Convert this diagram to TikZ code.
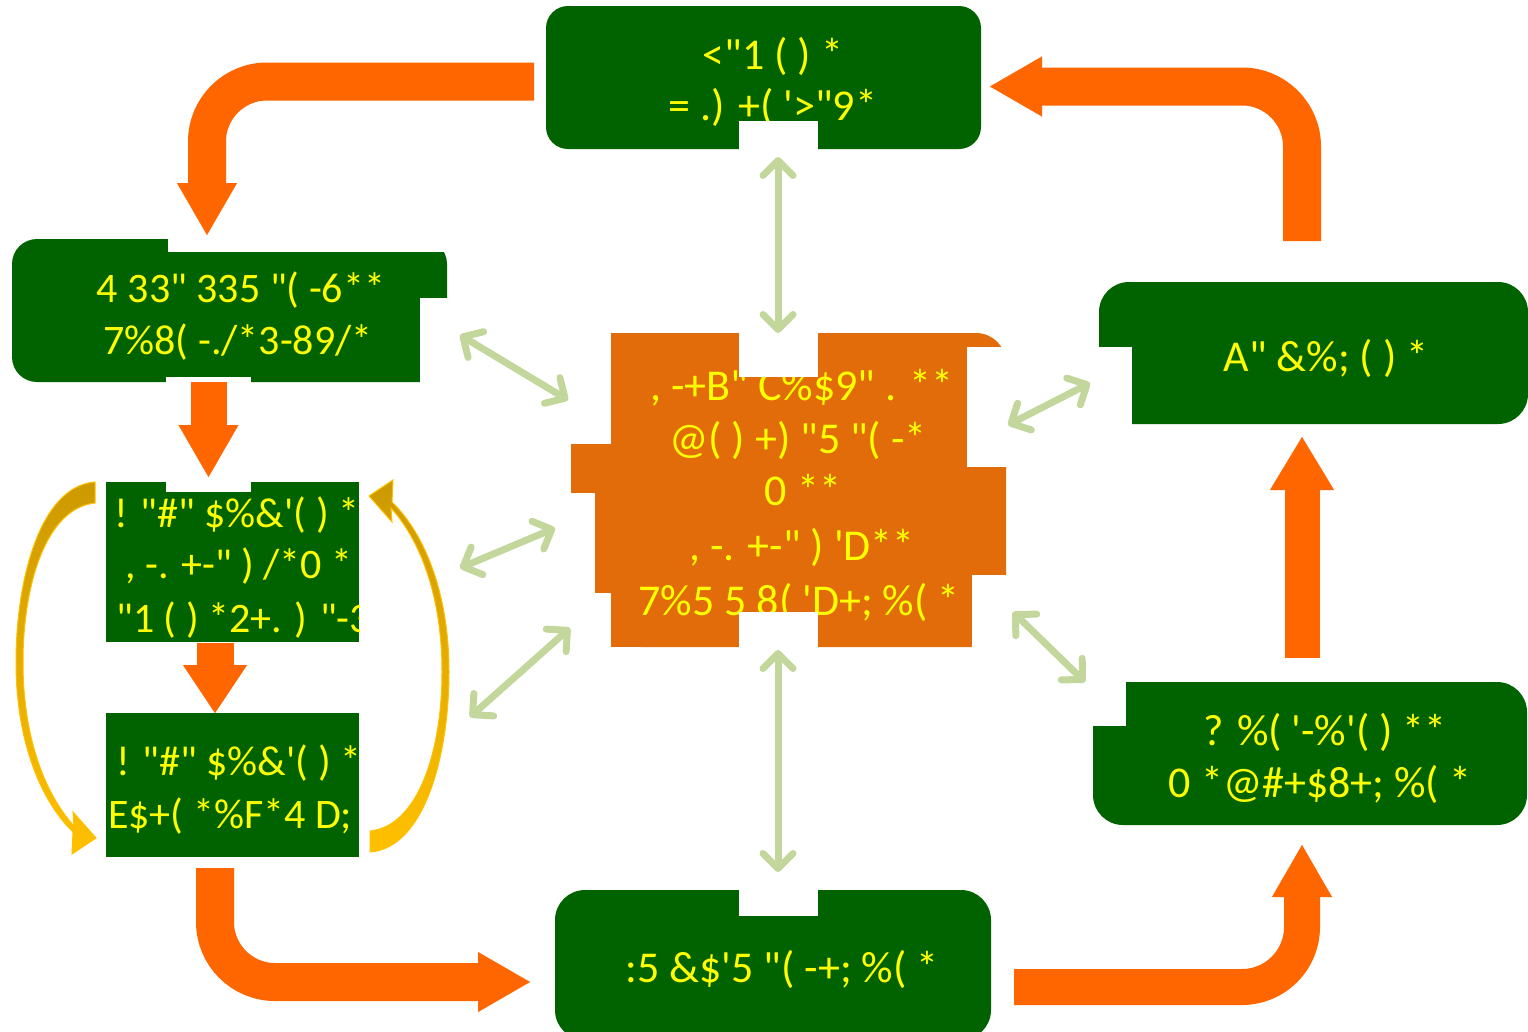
\documentclass[tikz,border=0pt]{standalone}
\usepackage{fontspec}
\newfontfamily\lblfont{Carlito}
\usetikzlibrary{arrows.meta,calc}
\definecolor{dgreen}{RGB}{0,99,0}
\definecolor{obox}{RGB}{227,108,10}
\definecolor{oarr}{RGB}{255,102,0}
\definecolor{tyel}{RGB}{255,255,0}
\definecolor{lgreen}{RGB}{195,214,155}
\definecolor{gold1}{RGB}{255,192,0}
\definecolor{gold2}{RGB}{204,153,0}
\begin{document}
\begin{tikzpicture}[x=1pt,y=-1pt,
  gbox/.style={fill=dgreen, inner sep=0pt, outer sep=0pt, rounded corners=22pt},
  obx/.style={fill=obox, inner sep=0pt, outer sep=0pt, rounded corners=30pt},
  txt/.style={text=tyel, font=\lblfont\fontsize{44}{50}\selectfont, inner sep=0pt, anchor=base},
  stxt/.style={txt, font=\lblfont\fontsize{42}{50}\selectfont},
  cut/.style={fill=white},
  oarrow/.style={draw=oarr, line width=38pt, rounded corners=60pt, -{Triangle[length=52pt,width=60pt,line width=0.1pt]}},
  dbl/.style={draw=lgreen, line width=7pt, line cap=round, >={Straight Barb[length=15pt,width=30pt,line cap=round,line join=round]}, <->},
  yarrow/.style={top color=gold2, bottom color=gold1, draw=gold1, line width=1pt}]
\useasboundingbox (0,0) rectangle (1528,1031);

% boxes
\node[gbox, minimum width=435, minimum height=143] (top) at (763.5,77.5) {};
\node[gbox, rounded corners=25pt, minimum width=435, minimum height=143] (lt) at (229.5,310.5) {};
\node[obx, minimum width=395, minimum height=314] (ctr) at (808.5,490) {};
\fill[obox] (571,444) rectangle (611,493);
\fill[obox] (595,493) rectangle (612,593);
\fill[obox] (611,333) rectangle (660,380);
\fill[obox] (611,600) rectangle (650,647);
\node[gbox, rounded corners=30pt, minimum width=429, minimum height=142] (rt) at (1313.5,353) {};
\node[gbox, rounded corners=30pt, minimum width=434, minimum height=143] (rb) at (1310,753.5) {};
\node[gbox, rounded corners=30pt, minimum width=436, minimum height=150] (bt) at (773,965) {};
\node[gbox, rounded corners=0pt, minimum width=253, minimum height=160] (lm) at (232.5,562) {};
\node[gbox, rounded corners=0pt, minimum width=253, minimum height=144] (lb) at (232.5,785) {};

% texts
\node[txt] (tA1) at (773,69) {<"1 ( ) *};
\node[txt] (tA2) at (773,120) {= .) +( '>"9*};
\node[stxt] (tB1) at (241,302) {4 33" 335 "( -6**};
\node[stxt] (tB2) at (238,354) {7\%8( -./*3-89/*};
\node[txt] (tC1) at (802,400) {, -+B" C\%\$9" . **};
\node[txt] (tC2) at (798,453) {@( ) +) "5 "( -*};
\node[txt] (tC3) at (803,505) {0 **};
\node[txt] (tC4) at (802,560) {, -. +-" ) 'D**};
\node[txt] (tC5) at (799,615) {7\%5 5 8( 'D+; \%( *};
\node[txt] (tD1) at (1326,371) {A" \&\%; ( ) *};
\node[txt] (tE1) at (1325,745) {? \%( '-\%'( ) **};
\node[txt] (tE2) at (1320,797) {0 *@\#+\$8+; \%( *};
\node[txt] (tF1) at (782,982) {:5 \&\$'5 "( -+; \%( *};
\begin{scope}
  \clip (106,482) rectangle (359,642);
  \node[stxt, anchor=base west] (tG1) at (114,527) {! "\#" \$\%\&'( ) *+*};
  \node[stxt] (tG2) at (239,578) {, -. +-" ) /*0 *};
  \node[stxt, anchor=base west] (tG3) at (116,632) {"1 ( ) *2+. ) "-3};
\end{scope}
\begin{scope}
  \clip (106,713) rectangle (359,857);
  \node[stxt, anchor=base west] (tH1) at (116,775) {! "\#" \$\%\&'( ) *+*};
  \node[stxt, anchor=base west] (tH2) at (108,828) {E\$+( *\%F*4 D; \%(};
\end{scope}

% white notches
\fill[cut] (739,121) rectangle (818,150);
\fill[cut] (168,237) rectangle (449,252);
\fill[cut] (420,298) rectangle (449,384);
\fill[cut] (166,377) rectangle (251,384);
\fill[cut] (739,332) rectangle (818,377);
\fill[cut] (739,612) rectangle (818,648);
\fill[cut] (967,347) rectangle (1008,467);
\fill[cut] (972,575) rectangle (1008,648);
\fill[cut] (1097,347) rectangle (1132,426);
\fill[cut] (1091,680) rectangle (1126,726);
\fill[cut] (739,888) rectangle (818,916);
\fill[cut] (166,480) rectangle (251,492);

% orange flow arrows
\draw[oarrow] ($(top.west)+(-12,4)$) -| ($(lt.north)+(-22.5,-4)$);
\draw[oarrow] ($(rt.north)+(-11.5,-41)$) |- ($(top.east)+(9,9)$);
\draw[oarrow, line width=36pt] ($(lt.south)+(-21,0)$) -- ($(lm.north)+(-24,-5)$);
\draw[oarrow, line width=37pt, -{Triangle[length=48pt,width=64pt,line width=0.1pt]}] ($(lm.south)+(-17.5,1)$) -- (lb.north -| {$(lm.south)+(-17.5,1)$});
\draw[oarrow] ($(lb.south)+(-17.5,11)$) |- ($(bt.west)+(-25,17)$);
\draw[oarrow, line width=36pt] ($(bt.east)+(23,22)$) -| ($(rb.south)+(-8,20)$);
\draw[oarrow, line width=35pt, -{Triangle[length=53pt,width=64pt,line width=0.1pt]}] ($(rb.north)+(-8,-24)$) -- ($(rt.south)+(-11.5,13)$);

% light green double arrows
\draw[dbl] ($(top.south)+(14.5,8)$) -- ($(ctr.north)+(-30.5,0)$);
\draw[dbl] ($(lt.east)+(13,24.5)$) -- ($(ctr.west)+(-43,-90)$);
\draw[dbl] ($(lm.east)+(101,6)$) -- ($(ctr.west)+(-56,38)$);
\draw[dbl] ($(lb.east)+(111,-68)$) -- ($(ctr.west)+(-41,138)$);
\draw[dbl] ($(ctr.east)+(2,-65)$) -- ($(rt.west)+(-9,30)$);
\draw[dbl] ($(ctr.east)+(7,122)$) -- ($(rb.west)+(-8,-71.5)$);
\draw[dbl] ($(ctr.south)+(-30.5,3)$) -- ($(bt.north)+(5,-18)$);

% yellow curved arrows
\path[yarrow] (95,482) .. controls (40,486) and (16,580) .. (16,662)
  .. controls (16,740) and (40,800) .. (73,832) -- (72,854) -- (96,838) -- (73,812) -- (74,826)
  .. controls (46,795) and (23,740) .. (23,662)
  .. controls (23,585) and (46,508) .. (95,503) -- cycle;
\begin{scope}[rotate around={180:(232.5,667)}]
\path[yarrow] (95,482) .. controls (40,486) and (16,580) .. (16,662)
  .. controls (16,740) and (40,800) .. (73,832) -- (72,854) -- (96,838) -- (73,812) -- (74,826)
  .. controls (46,795) and (23,740) .. (23,662)
  .. controls (23,585) and (46,508) .. (95,503) -- cycle;
\end{scope}
\end{tikzpicture}
\end{document}
